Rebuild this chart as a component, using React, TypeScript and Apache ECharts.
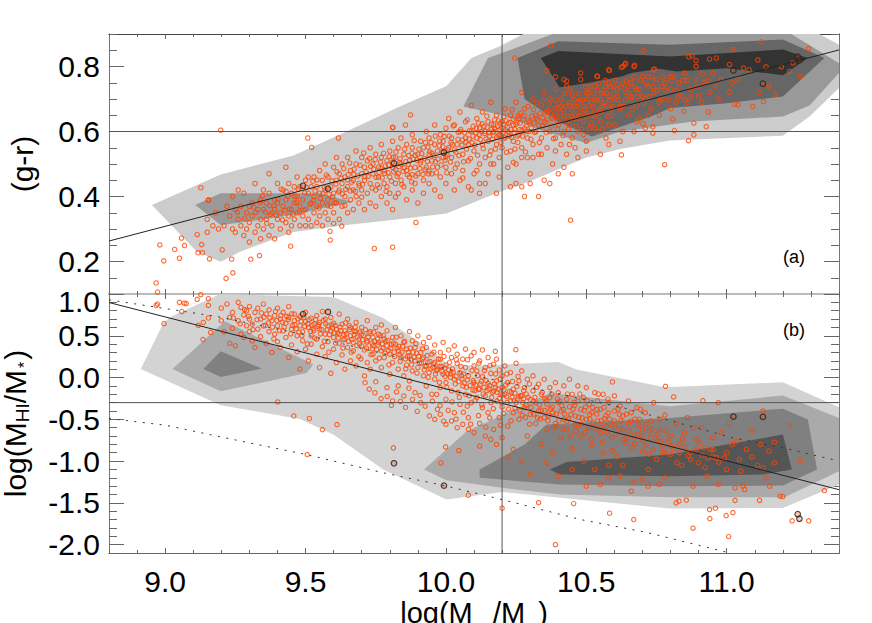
import React, { useEffect, useRef } from "react";
import * as echarts from "echarts";

const X_MIN = 8.8, X_MAX = 11.4;
const xMajor = [9.0, 9.5, 10.0, 10.5, 11.0];
const yTopMajor = [0.2, 0.4, 0.6, 0.8];
const yBotMajor = [-2, -1.5, -1, -0.5, 0, 0.5, 1];
const yBotLabels = [-2, -1.5, -1, -0.5, 0, 0.5, 0.905];

const topContours: [string, number[][]][] = [
  ["#cccccc", [[8.953,.374],[9.198,.468],[9.457,.526],[9.646,.6],[9.824,.672],[10.002,.74],[10.091,.826],[10.192,.862],[10.275,.9],[11.33,.9],[11.4,.867],[11.4,.734],[11.295,.646],[11.2,.587],[10.797,.572],[10.625,.547],[10.5,.52],[10.298,.446],[10.2,.417],[10.12,.389],[10.002,.348],[9.824,.329],[9.646,.312],[9.457,.291],[9.267,.23],[9.198,.199],[9.113,.23]]],
  ["#999999", [[9.107,.374],[9.198,.41],[9.457,.41],[9.55,.41],[9.668,.383],[9.57,.366],[9.465,.345],[9.29,.322],[9.198,.312]]],
  ["#999999", [[10.062,.677],[10.15,.826],[10.192,.839],[10.38,.9],[11.23,.9],[11.4,.81],[11.4,.78],[11.295,.68],[11.2,.646],[10.88,.631],[10.62,.6],[10.5,.565],[10.35,.6],[10.2,.65]]],
  ["#666666", [[10.255,.826],[10.4,.878],[10.797,.867],[11.2,.883],[11.348,.826],[11.2,.708],[11,.687],[10.8,.672],[10.73,.646],[10.52,.585],[10.4,.63],[10.28,.7]]],
  ["#333333", [[10.338,.826],[10.4,.848],[10.797,.831],[11.2,.852],[11.289,.826],[11.2,.773],[11,.795],[10.82,.785],[10.76,.793],[10.66,.78],[10.625,.769],[10.51,.75],[10.405,.736]]],
];
const botContours: [string, number[][]][] = [
  ["#d3d3d3", [[8.913,.103],[8.994,.653],[9.018,.725],[9.196,1],[9.599,.964],[9.777,.713],[9.955,.314],[10.01,.15],[10.12,.143],[10.4,.186],[10.465,.095],[10.78,-.117],[11.2,-.057],[11.4,-.356],[11.4,-1.28],[11.2,-1.56],[10.797,-1.568],[10.405,-1.44],[10.2,-1.37],[10.002,-1.46],[9.777,-1.1],[9.599,-.683],[9.48,-.495],[9.198,-.332]]],
  ["#aaaaaa", [[9.026,.103],[9.213,.673],[9.528,.155],[9.504,.055],[9.198,-.164]]],
  ["#808080", [[9.136,.103],[9.198,.314],[9.344,.107],[9.198,.007]]],
  ["#aaaaaa", [[9.922,-1.101],[10.074,-.643],[10.192,-.463],[10.37,-.184],[10.797,-.344],[11.2,-.216],[11.4,-.483],[11.4,-1.121],[11.206,-1.432],[10.797,-1.432],[10.405,-1.4],[10.2,-1.32],[10.002,-1.229]]],
  ["#808080", [[10.12,-1.101],[10.28,-.802],[10.358,-.563],[10.797,-.483],[11.2,-.372],[11.289,-.503],[11.322,-1.101],[11.2,-1.293],[10.797,-1.3],[10.405,-1.28],[10.12,-1.2]]],
  ["#555555", [[10.37,-1.1],[10.43,-1.01],[10.797,-.92],[11.2,-.683],[11.232,-1.1],[11.13,-1.16],[10.797,-1.18],[10.405,-1.16]]],
];

const topFit = [[8.8,.263],[11.4,.851]];
const botFit = [[8.8,.898],[11.4,-1.342]];
const dottedUpper = [[8.8,.93],[9.184,.73],[9.503,.51],[9.894,.19],[10.2,-.05],[10.3,-.12],[10.63,-.36],[11.02,-.72],[11.2,-.84],[11.4,-1.0]];
const dottedLower = [[8.8,-.49],[9.0,-.57],[9.24,-.74],[9.5,-.92],[9.79,-1.15],[9.99,-1.29],[10.2,-1.46],[10.48,-1.7],[10.71,-1.85],[11.0,-2.09]];

const topRinged = [[9.491,.433],[9.58,.424],[9.815,.502],[9.993,.536],[11.024,.788],[11.129,.747],[11.253,.83],[11.259,.819]];
const botRinged = [[9.491,.76],[9.58,.785],[9.815,-1.026],[9.993,-1.293],[11.024,-.467],[11.129,-.471],[11.253,-1.636],[11.259,-1.69]];

const topPoints = [
[9.198,.604],[9.508,.58],[9.522,.551],[8.968,.134],[8.973,.106],[8.981,.251],[8.995,.202],[9.034,.237],[9.051,.21],[9.058,.272],[9.069,.249],[9.114,.283],[9.117,.227],[9.133,.227],[9.13,.252],[9.158,.208],[9.203,.236],[9.237,.207],[9.217,.148],[9.241,.165],[9.305,.207],[9.336,.218],[9.127,.427],[9.153,.388],[9.155,.39],[9.447,.247],[9.588,.266],[9.587,.293],[9.629,.309],[9.745,.24],[9.81,.244],[9.893,.32],[9.874,.651],[9.81,.613],[9.811,.612],[9.856,.62],[9.617,.58],
[9.15,.33],[9.18,.35],[9.15,.29],[9.17,.31],[9.19,.3],[9.21,.31],[9.22,.37],[9.23,.34],[9.24,.3],[9.24,.4],[9.25,.29],[9.25,.36],[9.26,.33],[9.26,.42],[9.27,.31],[9.27,.37],[9.28,.28],[9.28,.41],[9.29,.35],[9.29,.3],[9.3,.37],[9.3,.32],[9.3,.26],[9.31,.38],[9.31,.34],[9.32,.29],[9.32,.44],[9.33,.36],[9.33,.31],[9.34,.39],[9.34,.27],[9.34,.33],[9.35,.42],[9.35,.36],[9.35,.3],[9.36,.38],[9.36,.33],[9.37,.47],[9.37,.28],[9.37,.41],[9.38,.35],[9.38,.31],[9.39,.39],[9.39,.36],[9.39,.27],[9.4,.44],[9.4,.33],[9.4,.38],[9.41,.3],[9.41,.35],[9.42,.42],[9.42,.37],[9.43,.49],[9.43,.32],[9.43,.39],[9.44,.34],[9.44,.44],[9.44,.29],[9.45,.36],[9.45,.41],[9.45,.31],[9.46,.38],[9.46,.43],[9.46,.33],[9.47,.35],[9.47,.46],[9.47,.4],[9.48,.31],[9.48,.37],[9.48,.43],[9.49,.34],[9.49,.39],[9.5,.45],[9.5,.31],[9.5,.36],[9.51,.41],[9.51,.33],[9.51,.46],[9.52,.38],[9.52,.43],[9.52,.31],[9.53,.35],[9.53,.4],[9.53,.46],[9.54,.32],[9.54,.37],[9.54,.43],[9.55,.48],[9.55,.34],[9.55,.41],[9.56,.31],[9.56,.38],[9.56,.45],[9.57,.35],[9.57,.42],[9.57,.5],[9.58,.33],[9.58,.39],[9.58,.46],[9.59,.37],[9.59,.43],[9.6,.49],[9.6,.35],[9.6,.41],[9.61,.45],[9.61,.38],[9.61,.52],[9.62,.33],[9.62,.42],[9.62,.47],[9.63,.37],[9.63,.44],[9.63,.5],[9.64,.4],[9.64,.46],[9.65,.35],[9.65,.43],[9.65,.52],[9.66,.39],[9.66,.48],[9.67,.42],[9.67,.45],[9.67,.36],[9.68,.5],[9.68,.4],[9.68,.54],[9.69,.44],[9.69,.38],[9.7,.47],[9.7,.52],[9.7,.42],[9.71,.36],[9.71,.49],[9.71,.45],[9.72,.41],[9.72,.51],[9.73,.55],[9.73,.44],[9.73,.38],[9.74,.47],[9.74,.5],[9.75,.42],[9.75,.53],[9.75,.37],[9.76,.46],[9.76,.49],[9.77,.4],[9.77,.52],[9.77,.56],[9.78,.44],[9.78,.48],[9.79,.38],[9.79,.51],[9.79,.43],[9.8,.46],[9.8,.54],[9.8,.41],[9.81,.49],[9.81,.57],[9.81,.36],[9.82,.44],[9.82,.52],[9.83,.47],[9.83,.41],[9.83,.55],[9.84,.5],[9.84,.58],[9.84,.45],[9.85,.43],[9.85,.53],[9.86,.48],[9.86,.39],[9.86,.56],[9.87,.46],[9.87,.51],[9.88,.42],[9.88,.55],[9.88,.59],[9.89,.49],[9.89,.44],[9.9,.53],[9.9,.47],[9.9,.38],[9.91,.57],[9.91,.51],[9.92,.45],[9.92,.41],[9.92,.55],[9.93,.49],[9.93,.6],[9.94,.53],[9.94,.44],[9.94,.58],[9.95,.47],[9.95,.51],[9.96,.56],[9.96,.42],[9.96,.62],[9.97,.49],[9.97,.54],[9.98,.46],[9.98,.59],[9.98,.4],[9.99,.52],[9.99,.57],[10,.44],[10,.49],[10,.61],[10.01,.55],[10.01,.64],[10.02,.47],[10.02,.58],[10.02,.52],[10.03,.42],[10.03,.62],[10.04,.5],[10.04,.56],[10.05,.66],[10.05,.45],[10.05,.6],[10.06,.53],[10.06,.48],[10.07,.58],[10.07,.63],[10.08,.51],[10.08,.43],[10.08,.56],[10.09,.68],[10.09,.6],[10.1,.47],[10.1,.54],[10.11,.64],[10.11,.58],[10.12,.5],[10.12,.61],[10.12,.44],[10.13,.56],[10.13,.66],[10.14,.52],[10.14,.6],[10.15,.47],[10.15,.63],[10.15,.57],[10.16,.54],[10.16,.69],[10.17,.6],[10.17,.5],[10.17,.62],[10.18,.56],[10.18,.65],[10.19,.52],[10.19,.59],[10.19,.46],[10.2,.61],[10.2,.55],[10.2,.63],[10.21,.67],[10.21,.58],[10.22,.49],[10.22,.6],[10.23,.54],[10.23,.65],[10.24,.62],[10.24,.57],[10.25,.5],[10.25,.69],[10.26,.59],[10.26,.64],[10.27,.55],[10.27,.72],[10.28,.61],[10.28,.67],[10.29,.52],[10.29,.58],[10.3,.63],[10.3,.47],[10.31,.56],[10.31,.7],[10.32,.65],[10.32,.6],[10.33,.53],[10.34,.68],[10.34,.58],[10.35,.72],[10.35,.63],[10.36,.55],[10.36,.66],[10.37,.6],[10.37,.7],[10.38,.5],[10.38,.64],[10.39,.73],[10.39,.58],[10.4,.67],[10.4,.62],[10.41,.56],[10.41,.7],[10.42,.65],[10.42,.6],[10.43,.53],[10.43,.74],[10.44,.68],[10.44,.62],[10.45,.58],[10.45,.71],[10.46,.65],[10.46,.55],[10.47,.69],[10.47,.6],[10.48,.76],[10.48,.66],[10.49,.63],[10.5,.72],[10.5,.57],[10.51,.68],[10.51,.61],[10.52,.65],[10.53,.74],[10.53,.7],[10.54,.77],[10.54,.6],[10.55,.66],[10.55,.63],[10.56,.72],[10.57,.68],[10.57,.58],[10.58,.75],[10.58,.79],[10.59,.65],[10.6,.7],[10.6,.62],[10.61,.73],[10.62,.57],[10.62,.67],[10.63,.8],[10.625,.528],[10.64,.72],[10.64,.81],[10.65,.65],[10.66,.7],[10.66,.75],[10.67,.8],[10.67,.6],[10.68,.68],[10.69,.73],[10.69,.64],[10.7,.77],[10.704,.849],[10.71,.7],[10.71,.61],[10.72,.74],[10.73,.67],[10.74,.79],[10.74,.72],[10.737,.615],[10.737,.595],[10.702,.624],[10.75,.76],[10.76,.65],[10.77,.7],[10.78,.75],[10.779,.498],[10.8,.73],[10.81,.77],[10.808,.638],[10.814,.603],[10.82,.69],[10.83,.75],[10.84,.71],[10.847,.662],[10.85,.78],[10.864,.572],[10.865,.83],[10.877,.833],[10.87,.73],[10.883,.626],[10.883,.59],[10.891,.818],[10.89,.76],[10.9,.71],[10.92,.75],[10.927,.615],[10.935,.66],[10.939,.823],[10.94,.72],[10.95,.78],[10.963,.826],[10.97,.7],[10.98,.76],[11.01,.806],[11.01,.72],[11.02,.75],[11.022,.852],[11.028,.684],[11.04,.682],[11.04,.76],[11.06,.795],[11.093,.677],[11.08,.79],[11.111,.82],[11.117,.72],[11.123,.876],[11.131,.692],[11.14,.799],[11.15,.74],[11.174,.715],[11.195,.799],[11.224,.785],[11.236,.811],[11.262,.77],[11.292,.855],[10.245,.826],[10.36,.787],[10.39,.768],[10.42,.76],[10.43,.755],[10.48,.78],[10.538,.77],[10.582,.787],[10.625,.797],[10.637,.806],[10.672,.804],[10.743,.792],[10.373,.864],[10.891,.8],[10.444,.327],[10.3,.44],[10.33,.4],[10.28,.4],[10.27,.43],[10.25,.44],[10.23,.43],[10.18,.41],[10.14,.44],[10.12,.41],[10.09,.42],[10.35,.45],[10.37,.44],[10.4,.47],[10.42,.49],[10.45,.47],[10.5,.54],[10.55,.53],[10.58,.56],[10.47,.52]
];
const topExtra = [
[9.323,.351],[9.347,.402],[9.362,.317],[9.388,.372],[9.413,.423],[9.427,.357],[9.438,.401],[9.456,.346],[9.469,.382],[9.474,.423],[9.493,.357],[9.497,.411],[9.516,.376],[9.526,.447],[9.534,.417],[9.548,.364],[9.553,.394],[9.567,.427],[9.574,.466],[9.583,.407],[9.594,.448],[9.604,.381],[9.612,.476],[9.618,.414],[9.627,.456],[9.636,.486],[9.643,.422],[9.652,.467],[9.657,.503],[9.664,.444],[9.673,.484],[9.678,.416],[9.686,.463],[9.694,.496],[9.703,.437],[9.707,.534],[9.716,.476],[9.723,.462],[9.728,.517],[9.737,.426],[9.743,.484],[9.748,.514],[9.756,.436],[9.762,.474],[9.767,.506],[9.773,.457],[9.778,.533],[9.784,.494],[9.787,.416],[9.794,.473],[9.798,.523],[9.806,.447],[9.809,.505],[9.814,.476],[9.822,.537],[9.826,.462],[9.833,.492],[9.837,.516],[9.843,.437],[9.847,.477],[9.853,.546],[9.857,.507],[9.863,.467],[9.868,.526],[9.874,.487],[9.878,.445],[9.884,.515],[9.887,.572],[9.893,.463],[9.897,.512],[9.904,.546],[9.907,.486],[9.914,.532],[9.918,.468],[9.924,.517],[9.927,.566],[9.934,.508],[9.938,.47],[9.943,.537],[9.947,.566],[9.953,.491],[9.957,.526],[9.962,.586],[9.966,.473],[9.972,.515],[9.976,.556],[9.983,.497],[9.986,.537],[9.994,.585],[9.997,.512],[10.003,.473],[10.007,.544],[10.012,.586],[10.016,.506],[10.023,.56],[10.026,.617],[10.033,.487],[10.036,.536],[10.043,.576],[10.046,.526],[10.053,.606],[10.057,.558],[10.063,.507],[10.067,.596],[10.073,.546],[10.076,.636],[10.083,.577],[10.087,.517],[10.093,.566],[10.097,.616],[10.103,.558],[10.107,.596],[10.113,.527],[10.116,.626],[10.123,.575],[10.127,.6],[10.133,.547],[10.136,.616],[10.143,.577],[10.146,.647],[10.153,.596],[10.156,.527],[10.163,.606],[10.166,.576],[10.173,.636],[10.176,.546],[10.183,.616],[10.186,.587],[10.193,.626],[10.196,.566],[10.203,.596],[10.206,.646],[10.213,.606],[10.216,.536],[10.223,.626],[10.226,.586],[10.233,.606],[10.236,.667],[10.243,.596],[10.246,.546],[10.253,.627],[10.256,.566],[10.263,.606],[10.266,.656],[10.273,.586],[10.276,.637],[10.283,.537],[10.286,.617],[10.293,.677],[10.296,.6],[10.303,.576],[10.306,.647],[10.313,.626],[10.316,.597],[10.323,.687],[10.327,.636],[10.333,.566],[10.336,.656],[10.343,.617],[10.347,.697],[10.353,.657],[10.357,.597],[10.363,.637],[10.367,.686],[10.373,.656],[10.377,.617],[10.383,.578],[10.387,.697],[10.393,.647],[10.397,.607],[10.403,.687],[10.407,.657],[10.413,.637],[10.417,.587],[10.423,.717],[10.427,.677],[10.433,.647],[10.437,.607],[10.443,.727],[10.447,.667],[10.453,.637],[10.457,.697],[10.463,.617],[10.467,.677],[10.473,.717],[10.477,.647],[10.483,.607],[10.487,.697],[10.493,.667],[10.497,.737],[10.503,.657],[10.507,.7],[10.513,.737],[10.517,.627],[10.523,.677],[10.527,.717],[10.533,.647],[10.537,.697],[10.543,.747],[10.547,.667],[10.553,.717],[10.557,.607],[10.563,.687],[10.567,.757],[10.573,.717],[10.577,.647],[10.583,.697],[10.587,.737],[10.593,.677],[10.597,.717],[10.603,.757],[10.613,.697],[10.623,.737],[10.633,.677],[10.643,.757],[10.653,.717],[10.663,.667],[10.673,.737],[10.683,.707],[10.693,.757],[10.703,.687],[10.713,.747],[10.723,.707],[10.733,.767],[10.753,.727],[10.763,.697],[10.773,.767],[10.783,.727],[10.793,.697],[10.803,.757],[10.823,.727],[10.843,.757],[10.853,.697],[10.873,.707],[10.893,.737],[10.913,.777],[10.933,.757]
];
const topMore = [
[9.338,.382],[9.375,.344],[9.402,.391],[9.431,.415],[9.462,.4],[9.478,.352],[9.503,.428],[9.529,.388],[9.541,.451],[9.562,.409],[9.579,.372],[9.597,.398],[9.608,.438],[9.631,.408],[9.649,.451],[9.659,.417],[9.672,.468],[9.691,.433],[9.711,.461],[9.732,.493],[9.751,.459],[9.769,.487],[9.782,.471],[9.796,.497],[9.812,.521],[9.821,.482],[9.835,.505],[9.851,.488],[9.866,.499],[9.879,.533],[9.891,.527],[9.909,.503],[9.926,.483],[9.936,.552],[9.951,.533],[9.963,.507],[9.978,.571],[9.989,.553],[10.004,.528],[10.018,.566],[10.031,.543],[10.044,.597],[10.059,.574],[10.071,.567],[10.084,.603],[10.096,.586],[10.108,.61],[10.119,.591],[10.129,.624],[10.138,.594],[10.147,.613],[10.155,.586],[10.162,.623],[10.168,.597],[10.174,.61],[10.181,.583],[10.187,.633],[10.192,.605],[10.197,.588],[10.204,.622],[10.208,.583],[10.214,.633],[10.219,.612],[10.225,.596],[10.229,.628],[10.234,.582],[10.239,.638],[10.244,.607],[10.249,.622],[10.254,.586],[10.258,.648],[10.264,.626],[10.271,.604],[10.279,.648],[10.287,.6],[10.294,.633],[10.304,.611],[10.312,.668],[10.322,.641],[10.331,.619],[10.344,.642],[10.356,.627],[10.365,.665],[10.376,.642],[10.388,.672],[10.398,.632],[10.409,.678],[10.419,.668],[10.429,.628],[10.439,.688],[10.449,.648],[10.459,.678],[10.469,.638],[10.479,.698],[10.489,.678],[10.499,.648],[10.509,.718],[10.519,.688],[10.529,.658],[10.539,.728],[10.549,.698],[10.559,.678],[10.569,.738],[10.579,.708],[10.589,.668],[10.599,.738],[10.609,.708],[10.619,.678],[10.629,.748],[10.639,.698],[10.649,.738],[10.659,.708],[10.669,.768],[10.679,.728],[10.699,.708],[10.719,.768],[10.739,.738],[10.769,.738],[10.799,.768],[10.829,.708],[10.859,.758],[9.258,.352],[9.283,.333],[9.316,.367],[9.357,.352],[9.372,.372],[9.395,.342],[9.418,.328],[9.442,.362],[9.6,.317],[9.64,.372],[9.7,.398],[9.763,.427],[9.82,.398],[9.88,.467],[9.94,.478],[10.0,.522],[10.06,.457],[10.11,.48],[10.16,.5],[10.24,.505],[10.27,.52],[10.31,.52],[10.34,.53],[10.39,.54],[10.44,.56],[10.49,.59],[10.53,.61],[10.58,.62],[10.63,.6],[10.68,.63],[10.72,.65],[10.76,.69],[10.8,.67],[10.86,.69],[10.91,.69],[10.96,.74]
];

const botPoints = [
[8.968,.864],[8.973,.88],[8.996,.645],[9.051,.9],[9.059,.79],[9.068,.89],[9.075,.885],[9.114,.936],[9.154,.944],[9.127,.992],[9.154,.864],[9.118,.625],[9.136,.66],[9.162,.54],[9.135,.454],[9.154,.713],[9.401,-.292],[9.458,-.46],[9.514,-.49],[9.56,-.623],[9.612,-.563],[9.506,-.922],[9.813,-.842],[9.982,-1.02],[9.999,-.83],[10.046,-.874],[10.08,-1.408],[10.2,-1.564],[10.39,-2.0],[10.583,-1.624],[10.669,-1.7],[10.88,-1.803],[11.007,-1.903],[10.94,-1.688],[10.939,-1.58],[10.96,-1.564],[10.998,-1.652],[11.022,-1.616],[11.233,-1.715],[11.292,-1.715],[11.348,-1.353],[11.19,-1.42],[11.2,-1.424],[11.117,-1.47],[11.03,-1.47],[10.856,-1.468],[10.82,-1.5],[10.83,-1.48],[10.455,-1.508],[10.33,-1.497],[11.058,-1.3],[11.064,-1.34],[11.153,-1.3],[11.224,-.575],[11.262,-.994],[11.17,-.774],[11.09,-.63],[10.249,.334],[10.176,.314],[10.13,.33],[10.782,-.105],[10.593,-.053],[10.811,-.232],[10.915,-.276],[10.97,-.3],[11.129,-.4],
[9.2,.83],[9.2,.68],[9.21,.55],[9.22,.88],[9.23,.72],[9.23,.41],[9.24,.78],[9.24,.59],[9.25,.38],[9.26,.9],[9.26,.68],[9.27,.52],[9.27,.84],[9.28,.75],[9.28,.48],[9.29,.62],[9.29,.8],[9.3,.55],[9.3,.7],[9.3,.85],[9.31,.44],[9.31,.64],[9.32,.78],[9.32,.36],[9.33,.58],[9.33,.83],[9.34,.7],[9.34,.49],[9.35,.88],[9.35,.62],[9.36,.76],[9.36,.41],[9.37,.55],[9.37,.81],[9.38,.68],[9.38,.3],[9.39,.74],[9.39,.52],[9.4,.62],[9.4,.83],[9.4,.43],[9.41,.7],[9.41,.36],[9.42,.56],[9.42,.78],[9.43,.65],[9.43,.48],[9.44,.72],[9.44,.24],[9.44,.85],[9.45,.58],[9.45,.39],[9.46,.68],[9.46,.76],[9.47,.5],[9.47,.31],[9.48,.62],[9.48,.73],[9.48,.1],[9.49,.44],[9.49,.55],[9.5,.67],[9.5,.34],[9.5,.78],[9.51,.6],[9.51,.2],[9.52,.5],[9.52,.71],[9.52,.4],[9.53,.64],[9.53,.56],[9.54,.28],[9.54,.74],[9.54,.46],[9.55,.66],[9.55,.12],[9.55,.58],[9.56,.37],[9.56,.79],[9.57,.52],[9.57,.7],[9.57,.25],[9.58,.62],[9.58,.43],[9.59,.56],[9.59,.05],[9.59,.72],[9.6,.34],[9.6,.48],[9.6,.65],[9.61,.58],[9.61,.18],[9.62,.41],[9.62,.76],[9.62,.52],[9.63,.27],[9.63,.64],[9.64,.46],[9.64,.56],[9.64,.1],[9.65,.36],[9.65,.7],[9.66,.5],[9.66,.2],[9.66,.6],[9.67,.42],[9.67,.32],[9.68,.55],[9.68,.66],[9.68,.14],[9.69,.46],[9.69,.25],[9.7,.38],[9.7,.6],[9.7,.52],[9.71,.02],[9.71,.33],[9.72,.44],[9.72,.68],[9.72,.18],[9.73,.55],[9.73,.1],[9.74,.38],[9.74,.28],[9.74,.48],[9.75,.6],[9.75,.2],[9.75,-.05],[9.76,.42],[9.76,.52],[9.77,.32],[9.77,.12],[9.77,.63],[9.78,.24],[9.78,.46],[9.79,.38],[9.79,.56],[9.79,-.12],[9.8,.04],[9.8,.28],[9.81,.48],[9.81,.18],[9.81,-.28],[9.82,.4],[9.82,.6],[9.83,.32],[9.83,.1],[9.83,-.1],[9.84,.24],[9.84,.5],[9.85,.42],[9.85,.02],[9.85,-.22],[9.86,.34],[9.86,.15],[9.87,.55],[9.87,.26],[9.87,-.04],[9.88,.44],[9.88,.08],[9.89,.36],[9.89,.2],[9.89,-.18],[9.9,.5],[9.9,.12],[9.91,.3],[9.91,-.3],[9.92,.42],[9.92,.02],[9.92,.24],[9.93,.14],[9.93,.36],[9.93,-.1],[9.94,.48],[9.94,.06],[9.95,.28],[9.95,-.2],[9.96,.18],[9.96,.39],[9.96,-.02],[9.97,.1],[9.97,-.38],[9.98,.3],[9.98,.22],[9.98,-.12],[9.99,.04],[9.99,.42],[10,.15],[10,-.26],[10,-.06],[10.01,.33],[10.01,.09],[10.02,-.16],[10.02,.24],[10.03,.38],[10.03,-.02],[10.03,-.42],[10.04,.17],[10.04,.28],[10.05,.06],[10.05,-.32],[10.06,-.1],[10.06,.22],[10.07,.34],[10.07,-.2],[10.07,.12],[10.08,-.48],[10.08,.02],[10.09,.26],[10.09,-.3],[10.1,.14],[10.1,-.06],[10.1,.3],[10.11,-.24],[10.11,.08],[10.12,-.14],[10.12,.2],[10.12,-.55],[10.13,-.36],[10.13,.01],[10.14,.12],[10.14,-.22],[10.15,.24],[10.15,-.42],[10.15,-.07],[10.16,.05],[10.16,-.3],[10.17,.16],[10.17,-.16],[10.17,-.62],[10.18,-.04],[10.18,.22],[10.19,-.25],[10.19,.09],[10.19,-.48],[10.2,-.12],[10.2,.02],[10.2,-.35],[10.21,.14],[10.21,-.2],[10.22,-.06],[10.22,-.58],[10.23,-.28],[10.23,.06],[10.24,-.14],[10.24,-.42],[10.25,.17],[10.25,-.3],[10.26,-.04],[10.26,-.5],[10.27,-.22],[10.27,.08],[10.28,-.12],[10.28,-.36],[10.29,-.7],[10.29,-.02],[10.3,-.26],[10.3,-.44],[10.31,.02],[10.31,-.16],[10.32,-.55],[10.32,-.3],[10.33,-.08],[10.33,-.4],[10.34,-.8],[10.34,-.2],[10.35,-.48],[10.35,-.02],[10.36,-.32],[10.36,-.62],[10.37,-.12],[10.37,-.24],[10.38,-.42],[10.38,-.9],[10.39,-.06],[10.39,-.55],[10.4,-.3],[10.4,-.18],[10.41,-.72],[10.41,-.4],[10.42,-.1],[10.42,-.5],[10.43,-.26],[10.43,-.62],[10.44,-.02],[10.44,-.35],[10.45,-.85],[10.45,-.2],[10.46,-.46],[10.46,-.56],[10.47,-.28],[10.47,-.1],[10.48,-.7],[10.48,-.38],[10.49,-1.0],[10.49,-.24],[10.5,-.5],[10.5,-.12],[10.51,-.6],[10.51,-.32],[10.52,-.8],[10.52,-.42],[10.53,-.18],[10.53,-1.1],[10.54,-.52],[10.54,-.28],[10.55,-.66],[10.55,-.38],[10.56,-.2],[10.56,-.9],[10.57,-.46],[10.57,-.58],[10.58,-.3],[10.58,-1.2],[10.59,-.72],[10.6,-.4],[10.6,-.52],[10.6,-.22],[10.61,-.95],[10.62,-.62],[10.62,-.34],[10.63,-.46],[10.63,-1.05],[10.64,-.78],[10.65,-.28],[10.65,-.55],[10.66,-.42],[10.67,-.7],[10.67,-1.25],[10.68,-.36],[10.69,-.5],[10.7,-.88],[10.7,-.62],[10.71,-.42],[10.72,-1.1],[10.73,-.72],[10.73,-.52],[10.74,-.3],[10.75,-.98],[10.76,-.62],[10.77,-.82],[10.78,-1.2],[10.78,-.45],[10.8,-.7],[10.8,-.92],[10.82,-.55],[10.83,-.8],[10.84,-1.05],[10.85,-.66],[10.86,-.48],[10.87,-.9],[10.88,-1.3],[10.89,-.74],[10.9,-1.02],[10.91,-.6],[10.92,-.84],[10.93,-1.18],[10.95,-.72],[10.95,-.95],[10.97,-1.28],[10.98,-.66],[11,-.9],[11.0,-1.1],[11.01,-.55],[11.02,-.8],[11.03,-1.32],[11.035,-.76],[11.045,-.98],[11.05,-1.12],[11.07,-.86],[11.09,-.95],[11.11,-1.05],[11.13,-1.08],[11.15,-.88],[11.17,-1.02],[11.12,-.8],[11.14,-1.2],[10.36,-1.02],[10.4,-1.18],[10.45,-1.1],[10.5,-1.3],[10.55,-1.28],[10.58,-1.05],[10.62,-1.18],[10.66,-1.36],[10.7,-1.22],[10.72,-1.3],[10.76,-1.28],[10.3,-1.16],[10.27,-1.0],[10.24,-.86],[10.22,-.95],[10.2,-.72],[10.18,-.8],[10.16,-.74],[10.14,-.7],[10.12,-.82],[10.1,-.66],[10.08,-.62],[10.06,-.56],[10.04,-.6],[10.02,-.52],[10,-.56],[9.98,-.44],[9.96,-.5]
];
const botExtra = [
[9.243,.713],[9.267,.643],[9.283,.813],[9.297,.733],[9.313,.573],[9.327,.693],[9.343,.773],[9.357,.623],[9.373,.713],[9.387,.463],[9.393,.793],[9.407,.563],[9.417,.663],[9.433,.733],[9.447,.523],[9.453,.623],[9.467,.583],[9.473,.703],[9.487,.503],[9.497,.613],[9.507,.403],[9.513,.693],[9.527,.583],[9.533,.473],[9.547,.633],[9.553,.523],[9.563,.683],[9.567,.433],[9.577,.573],[9.583,.303],[9.593,.633],[9.603,.533],[9.607,.413],[9.617,.473],[9.623,.603],[9.633,.353],[9.637,.513],[9.643,.653],[9.653,.433],[9.657,.573],[9.663,.303],[9.673,.513],[9.677,.603],[9.683,.383],[9.693,.543],[9.697,.223],[9.703,.453],[9.713,.573],[9.717,.353],[9.723,.483],[9.733,.273],[9.737,.413],[9.743,.543],[9.753,.333],[9.757,.463],[9.763,.233],[9.773,.403],[9.777,.503],[9.783,.293],[9.793,.443],[9.797,.153],[9.803,.353],[9.813,.413],[9.817,.253],[9.823,.483],[9.833,.373],[9.837,.193],[9.843,.303],[9.853,.433],[9.857,.103],[9.863,.253],[9.873,.353],[9.877,.153],[9.883,.303],[9.893,.403],[9.897,.053],[9.903,.253],[9.913,.173],[9.917,.343],[9.923,.093],[9.933,.263],[9.937,.003],[9.943,.193],[9.953,.123],[9.957,.303],[9.963,.043],[9.973,.223],[9.977,-.057],[9.983,.133],[9.993,.253],[9.997,.013],[10.003,-.117],[10.013,.183],[10.017,.043],[10.023,.103],[10.033,-.077],[10.037,.213],[10.043,-.177],[10.053,.133],[10.057,-.017],[10.063,.043],[10.073,-.117],[10.077,.213],[10.083,-.217],[10.093,.083],[10.097,-.037],[10.103,-.157],[10.113,.023],[10.117,.173],[10.123,-.077],[10.133,-.197],[10.137,.083],[10.143,-.037],[10.153,-.137],[10.157,.143],[10.163,-.237],[10.173,-.077],[10.177,.043],[10.183,-.177],[10.193,-.017],[10.197,-.297],[10.203,-.207],[10.213,-.087],[10.217,.043],[10.223,-.377],[10.233,-.177],[10.237,-.047],[10.243,-.277],[10.253,-.107],[10.257,.013],[10.263,-.397],[10.273,-.297],[10.277,-.157],[10.283,-.477],[10.293,-.237],[10.297,-.077],[10.303,-.357],[10.313,-.437],[10.317,-.237],[10.323,-.117],[10.333,-.327],[10.337,-.497],[10.343,-.177],[10.353,-.397],[10.357,-.277],[10.363,-.517],[10.373,-.377],[10.377,-.197],[10.383,-.597],[10.393,-.437],[10.397,-.257],[10.403,-.517],[10.413,-.337],[10.417,-.617],[10.423,-.437],[10.433,-.197],[10.437,-.497],[10.443,-.697],[10.453,-.377],[10.457,-.297],[10.463,-.637],[10.473,-.477],[10.477,-.197],[10.483,-.557],[10.493,-.397],[10.497,-.657],[10.503,-.277],[10.513,-.497],[10.517,-.737],[10.523,-.357],[10.533,-.617],[10.537,-.437],[10.543,-.197],[10.553,-.517],[10.557,-.777],[10.563,-.357],[10.573,-.657],[10.577,-.257],[10.583,-.497],[10.593,-.877],[10.603,-.597],[10.613,-.377],[10.623,-.517],[10.633,-.737],[10.643,-.437],[10.653,-.637],[10.663,-.837],[10.673,-.497],[10.683,-.677],[10.693,-.377],[10.703,-.757],[10.713,-.557],[10.723,-.917],[10.733,-.617],[10.753,-.757],[10.763,-.497],[10.773,-.897],[10.783,-.637],[10.803,-.817],[10.823,-1.017],[10.843,-.737],[10.863,-.937],[10.883,-.597],[10.903,-.777],[10.923,-1.077],[10.943,-.857],[10.963,-.957]
];
const botMore = [
[9.712,-.062],[9.727,-.138],[9.747,-.182],[9.769,-.252],[9.791,-.226],[9.806,-.334],[9.824,-.172],[9.838,-.286],[9.856,-.358],[9.868,-.128],[9.881,-.262],[9.898,-.404],[9.908,-.214],[9.926,-.342],[9.941,-.458],[9.952,-.282],[9.967,-.202],[9.979,-.336],[9.992,-.522],[10.008,-.392],[10.022,-.292],[10.036,-.498],[10.048,-.238],[10.062,-.416],[10.076,-.342],[10.088,-.558],[10.104,-.272],[10.116,-.456],[10.128,-.326],[10.142,-.592],[10.156,-.482],[10.169,-.372],[10.182,-.282],[10.194,-.568],[10.206,-.428],[10.218,-.298],[10.232,-.518],[10.246,-.362],[10.259,-.228],[10.272,-.452],[10.286,-.332],[10.298,-.558],[10.312,-.282],[10.326,-.482],[10.338,-.392],[10.352,-.252],[10.366,-.452],[10.379,-.352],[10.392,-.582],[10.405,-.282],[10.418,-.382],[10.431,-.522],[10.445,-.442],[10.458,-.332],[10.471,-.562],[10.485,-.482],[10.498,-.352],[10.512,-.442],[10.525,-.542],[10.538,-.382],[10.552,-.602],[10.565,-.492],[10.578,-.422],[10.592,-.572],[10.605,-.682],[10.618,-.442],[10.632,-.622],[10.645,-.722],[10.658,-.522],[10.672,-.792],[10.685,-.562],[10.698,-.692],[10.712,-.812],[10.725,-.642],[10.738,-.862],[10.752,-.682],[10.765,-.762],[10.778,-.892],[10.792,-.772],[10.812,-.852],[10.832,-.902],[10.852,-.832],[10.872,-.982],[10.892,-.862],[10.912,-.932],[10.932,-.962],[10.952,-.862],[10.972,-1.012],[10.992,-.962],
[9.352,.723],[9.368,.653],[9.382,.603],[9.398,.683],[9.412,.743],[9.424,.603],[9.438,.693],[9.451,.763],[9.462,.633],[9.476,.543],[9.484,.673],[9.494,.723],[9.508,.643],[9.518,.553],[9.523,.623],[9.536,.693],[9.544,.613],[9.558,.573],[9.572,.643],[9.585,.513],[9.596,.593],[9.606,.623],[9.614,.533],[9.626,.563],[9.634,.453],[9.646,.523],[9.655,.623],[9.665,.453],[9.674,.553],[9.684,.483],[9.692,.403],[9.706,.503],[9.718,.423],[9.726,.533],[9.738,.343],[9.746,.433],[9.758,.393],[9.766,.503],[9.776,.353],[9.786,.433],[9.795,.323],[9.806,.393],[9.816,.303],[9.826,.353],[9.836,.273],[9.846,.373],[9.856,.223],[9.866,.303],[9.876,.213],[9.886,.243],[9.896,.293],[9.906,.173],[9.916,.223],[9.926,.133],[9.936,.183],[9.946,.103],[9.956,.163],[9.966,.083],[9.976,.133],[9.986,.073],[9.996,.113],[10.006,.043],[10.016,.003],[10.026,.063],[10.036,.013],[10.046,-.047],[10.056,.023],[10.066,-.067],[10.076,-.027],[10.086,-.097],[10.096,-.147],[10.106,-.087],[10.116,-.137],[10.126,-.047],[10.136,-.117],[10.146,-.157],[10.156,-.097],[10.166,-.177],[10.176,-.117],[10.186,-.137],[10.196,-.197],[10.206,-.147],[10.216,-.227],[10.226,-.167],[10.236,-.237],[10.246,-.187],[10.256,-.257],[10.266,-.217],[10.276,-.257],[10.286,-.197]
];

function baseAxis(gridIndex: number, lineColor: string, width: number, opts: any) {
  return {
    type: "value",
    gridIndex,
    splitLine: { show: false },
    axisLine: { show: true, onZero: false, lineStyle: { color: lineColor, width } },
    axisLabel: { show: false },
    ...opts,
  };
}

function xAxesFor(gridIndex: number, showLabel: boolean) {
  const base = { min: X_MIN, max: X_MAX };
  const sideLine = (position: string): [string, number] => {
    const isMiddle = (gridIndex === 0 && position === "bottom") || (gridIndex === 1 && position === "top");
    if (isMiddle) return ["#bbbbbb", 2];
    return position === "top" ? ["#444444", 1] : ["#666666", 1];
  };
  const minor = (position: string) => baseAxis(gridIndex, ...sideLine(position), {
    ...base, position, interval: 0.1,
    axisTick: { show: true, inside: true, length: 3, lineStyle: { color: "#666666", width: 1 } },
  });
  const major = (position: string, label: boolean) => baseAxis(gridIndex, ...sideLine(position), {
    ...base, position,
    axisTick: { show: true, inside: true, length: 5, customValues: xMajor, lineStyle: { color: "#666666", width: 1 } },
    axisLabel: label ? {
      show: true, customValues: xMajor, margin: 13, color: "#000", fontSize: 30, fontFamily: "Liberation Sans",
      formatter: (v: number) => v.toFixed(1),
    } : { show: false },
    ...(label ? {
      name: "{n|log(M}{a|*}{n|/M}{s|⊙}{n|)}",
      nameLocation: "middle",
      nameGap: 33,
      nameMoveOverlap: false,
      nameTextStyle: {
        fontFamily: "Liberation Sans", color: "#000",
        rich: {
          n: { fontSize: 29, fontFamily: "Liberation Sans", color: "#000", lineHeight: 54 },
          a: { fontSize: 16, fontFamily: "Liberation Sans", color: "#000", lineHeight: 54, verticalAlign: "bottom", padding: [0, 7, 0, 7] },
          s: { fontSize: 15, fontFamily: "Liberation Sans", color: "#000", lineHeight: 54, verticalAlign: "bottom" },
        },
      },
    } : {}),
  });
  return [minor("bottom"), minor("top"), major("bottom", showLabel), major("top", false)];
}

function yAxesFor(gridIndex: number, min: number, max: number, step: number, majors: number[], labels: number[], name: string, nameGap: number, lblFmt: (v: number) => string) {
  const base = { min, max };
  const minor = (position: string) => baseAxis(gridIndex, "#777777", 1, {
    ...base, position, interval: step,
    axisTick: { show: true, inside: true, length: 8, lineStyle: { color: "#666666", width: 1 } },
  });
  const major = (position: string, label: boolean) => baseAxis(gridIndex, "#777777", 1, {
    ...base, position,
    axisTick: { show: true, inside: true, length: 15, customValues: majors, lineStyle: { color: "#666666", width: 1 } },
    axisLabel: label ? {
      show: true, customValues: labels, margin: 9, color: "#000", fontSize: 30, fontFamily: "Liberation Sans", formatter: lblFmt,
    } : { show: false },
    ...(label ? {
      name, nameLocation: "middle", nameGap, nameRotate: 90, nameMoveOverlap: false,
      nameTextStyle: {
        fontFamily: "Liberation Sans", color: "#000",
        rich: {
          n: { fontSize: 30, fontFamily: "Liberation Sans", color: "#000", lineHeight: 34 },
          s: { fontSize: 19, fontFamily: "Liberation Sans", color: "#000", lineHeight: 34, verticalAlign: "bottom" },
          a: { fontSize: 16, fontFamily: "Liberation Sans", color: "#000", lineHeight: 34, verticalAlign: "bottom", padding: [0, 2, 0, 2] },
        },
      },
    } : {}),
  });
  return [minor("left"), minor("right"), major("left", true), major("right", false)];
}

function polygonSeries(color: string, verts: number[][], axisIndex: number) {
  return {
    type: "custom", xAxisIndex: axisIndex, yAxisIndex: axisIndex, silent: true, z: 1,
    data: verts,
    clip: true,
    renderItem: (params: any, api: any) => {
      if (params.dataIndex !== 0) return null;
      return { type: "polygon", shape: { points: verts.map(v => api.coord(v)) }, style: { fill: color } };
    },
  };
}

function lineSeries(data: number[][], axisIndex: number, color: string, type: any, width: number) {
  return {
    type: "line", xAxisIndex: axisIndex, yAxisIndex: axisIndex, data, symbol: "none", silent: true, z: 5, clip: true,
    lineStyle: { color, type, width },
  };
}

function pointSeries(data: number[][], axisIndex: number) {
  return {
    type: "scatter", xAxisIndex: axisIndex, yAxisIndex: axisIndex, data, silent: true, z: 3, symbol: "circle", symbolSize: 4.4,
    large: false,
    itemStyle: { color: "none", borderColor: "#ff4500", borderWidth: 1.1 },
  };
}

function ringSeries(data: number[][], axisIndex: number) {
  return {
    type: "scatter", xAxisIndex: axisIndex, yAxisIndex: axisIndex, data, silent: true, z: 4, symbol: "circle", symbolSize: 5.5,
    itemStyle: { color: "rgba(255,69,0,0.35)", borderColor: "#222222", borderWidth: 1.2 },
  };
}

export default function App() {
  const ref = useRef<HTMLDivElement>(null);
  useEffect(() => {
    document.body.style.margin = "0";
    const chart = echarts.init(ref.current!, undefined, { renderer: "svg" });
    const series: any[] = [
      ...topContours.map(([c, v]) => polygonSeries(c, v, 0)),
      ...botContours.map(([c, v]) => polygonSeries(c, v, 4)),
      pointSeries([...topPoints, ...topExtra, ...topMore], 0),
      pointSeries([...botPoints, ...botExtra, ...botMore], 4),
      ringSeries(topRinged, 0),
      ringSeries(botRinged, 4),
      lineSeries(topFit, 0, "#222222", "solid", 1),
      lineSeries(botFit, 4, "#222222", "solid", 1),
      lineSeries([[X_MIN, 0.6], [X_MAX, 0.6]], 0, "#555555", "solid", 1),
      lineSeries([[X_MIN, -0.3], [X_MAX, -0.3]], 4, "#555555", "solid", 1),
      lineSeries([[10.2, 0.1], [10.2, 0.9]], 0, "#555555", "solid", 1),
      lineSeries([[10.2, -2.1], [10.2, 1.0]], 4, "#555555", "solid", 1),
      lineSeries(dottedUpper, 4, "#333333", [2, 6.5], 1),
      lineSeries(dottedLower, 4, "#333333", [2, 6.5], 1),
    ];
    chart.setOption({
      animation: false,
      backgroundColor: "#ffffff",
      grid: [
        { left: 109, width: 730, top: 34, height: 260, outerBoundsMode: "none", containLabel: false },
        { left: 109, width: 730, top: 294, height: 259, outerBoundsMode: "none", containLabel: false },
      ],
      xAxis: [...xAxesFor(0, false), ...xAxesFor(1, true)],
      yAxis: [
        ...yAxesFor(0, 0.1, 0.9, 0.05, yTopMajor, yTopMajor, "{n|(g-r)}", 70, (v: number) => v.toFixed(1)),
        ...yAxesFor(1, -2.1, 1.0, 0.1, yBotMajor, yBotLabels, "{n|log(M}{s|HI}{n|/M}{a|*}{n|)}", 77, (v: number) => (Math.round(v * 2) / 2).toFixed(1)),
      ],
      graphic: [
        { type: "text", x: 794, y: 257, style: { text: "(a)", fontSize: 18, fontFamily: "Liberation Sans", fill: "#000", textAlign: "center", textVerticalAlign: "middle" } },
        { type: "text", x: 794, y: 330, style: { text: "(b)", fontSize: 18, fontFamily: "Liberation Sans", fill: "#000", textAlign: "center", textVerticalAlign: "middle" } },
      ],
      series,
    });
    return () => chart.dispose();
  }, []);
  return <div ref={ref} style={{ position: "fixed", left: 0, top: 0, width: 872, height: 623 }} />;
}
